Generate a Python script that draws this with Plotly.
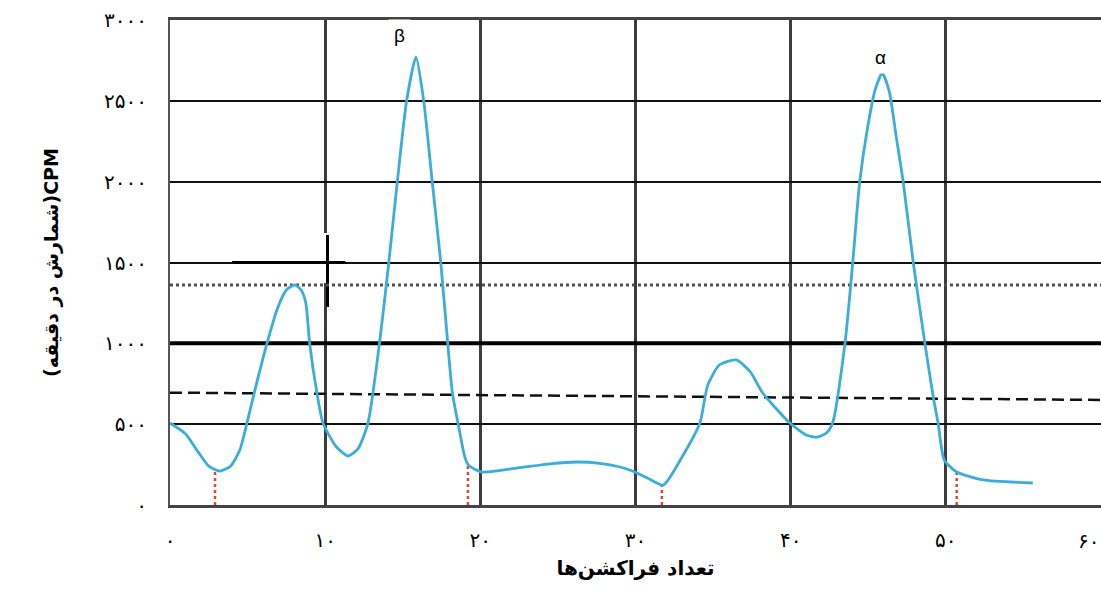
import plotly.graph_objects as go

# ---------------- data ----------------
fraction = [0, 1.0, 1.8, 2.5, 3.2, 3.9, 4.5, 4.96, 5.6, 6.25, 6.9, 7.5, 8.05,
            8.45, 8.75, 9.0, 9.47, 9.86, 10.7, 11.47, 12.1, 12.76, 13.5, 14.1, 14.65, 15.25,
            15.85, 16.35, 16.9, 17.45, 17.9, 18.2, 18.56, 19.0, 19.25, 20.1, 22.4,
            24.5, 26.2, 27.7, 29.0, 29.8, 30.8, 31.8, 33.0, 34.15, 34.65, 35.4, 36.5,
            37.4, 38.2, 39.95, 41.0, 41.7, 42.3, 42.7, 43.5, 44.0, 44.45, 44.95, 45.45, 45.9,
            46.35, 46.8, 47.25, 47.9, 48.65, 49.2, 49.5, 49.9, 50.7, 52.4, 55.6]
cpm = [507, 440, 330, 240, 210, 240, 340, 507, 760, 1000, 1210, 1330, 1361,
       1330, 1250, 1000, 693, 507, 362, 303, 345, 507, 1000, 1500, 2000, 2500,
       2771, 2500, 2000, 1500, 1000, 693, 507, 297, 245, 204, 229,
       255, 266, 258, 235, 210, 165, 124, 297, 507, 740, 866, 897,
       823, 693, 507, 433, 420, 445, 507, 1000, 1500, 2000, 2330, 2570, 2672,
       2560, 2280, 2000, 1500, 1000, 662, 507, 278, 204, 155, 136]

valley_x = [2.9, 19.2, 31.7, 50.7]
valley_y = [215, 250, 124, 204]

dotted_level = 1361
dashed_x = [0, 60]
dashed_y = [695, 650]

x_ticks = [0, 10, 20, 30, 40, 50]
x_ticktext = ["۰", "۱۰", "۲۰", "۳۰", "۴۰", "۵۰"]
x_last_tick = 60
x_last_text = "۶۰"
y_ticks = [0, 500, 1000, 1500, 2000, 2500, 3000]
y_ticktext = ["۰", "۵۰۰", "۱۰۰۰", "۱۵۰۰", "۲۰۰۰", "۲۵۰۰", "۳۰۰۰"]

x_title = "تعداد فراکشن‌ها"
y_title = "(شمارش در دقیقه)CPM"
peak_labels = ["β", "α"]
peak_label_x = [14.8, 45.8]
peak_label_y = [2907, 2771]

FA_FONT = "DejaVu Sans"

fig = go.Figure()

# dotted reference line
fig.add_trace(go.Scatter(x=[0, 60], y=[dotted_level, dotted_level], mode="lines",
                         line=dict(color="#505050", width=3, dash="dot"),
                         hoverinfo="skip", showlegend=False))
# dashed baseline
fig.add_trace(go.Scatter(x=dashed_x, y=dashed_y, mode="lines",
                         line=dict(color="#111111", width=2.5, dash="12px,6px"),
                         hoverinfo="skip", showlegend=False))

# red dotted drop lines at the valleys
vx, vy = [], []
for xv, yv in zip(valley_x, valley_y):
    vx += [xv, xv, None]
    vy += [0, yv, None]
fig.add_trace(go.Scatter(x=vx, y=vy, mode="lines",
                         line=dict(color="#e0443c", width=2.5, dash="dot"),
                         hoverinfo="skip", showlegend=False))

# elution curve
fig.add_trace(go.Scatter(x=fraction, y=cpm, mode="lines",
                         line=dict(color="#3aaed8", width=2.8, shape="spline", smoothing=0.6),
                         showlegend=False))

shapes = [
    # bold 1000 line
    dict(type="line", xref="x", yref="y", x0=0, x1=60, y0=1000, y1=1000,
         line=dict(color="black", width=4), layer="between"),
    # white patch with cross
    dict(type="rect", xref="x", yref="y", x0=4.0, x1=10.8, y0=1373, y1=1682,
         fillcolor="white", line=dict(width=0), layer="between"),
    dict(type="line", xref="x", yref="y", x0=4.0, x1=11.3, y0=1500, y1=1500,
         line=dict(color="black", width=3), layer="between"),
    dict(type="line", xref="x", yref="y", x0=10.15, x1=10.15, y0=1225, y1=1670,
         line=dict(color="black", width=3), layer="between"),
]

annotations = []
for t, ax, ay in zip(peak_labels, peak_label_x, peak_label_y):
    annotations.append(dict(x=ax, y=ay, xref="x", yref="y", text=t, showarrow=False,
                            font=dict(family="Liberation Sans, Arial", size=19, color="black"),
                            bgcolor="white", borderpad=5))
annotations.append(dict(x=x_last_tick, y=0, xref="x", yref="paper", text=x_last_text,
                        showarrow=False, xanchor="right", yanchor="top", yshift=-22,
                        font=dict(family=FA_FONT, size=20, color="black")))

fig.update_layout(
    width=1101, height=614,
    margin=dict(l=170, r=0, t=20, b=109),
    paper_bgcolor="white", plot_bgcolor="white",
    shapes=shapes, annotations=annotations,
    xaxis=dict(range=[0, 60], tickmode="array", tickvals=x_ticks, ticktext=x_ticktext,
               showgrid=True, gridcolor="#3c3c3c", gridwidth=3,
               showline=True, linecolor="#444444", linewidth=3, mirror=True,
               zeroline=False, ticks="", ticklabelstandoff=15, automargin=False,
               tickfont=dict(family=FA_FONT, size=20, color="black"),
               title=dict(text=x_title, standoff=10,
                          font=dict(family=FA_FONT, size=20, color="black", weight="bold"))),
    yaxis=dict(range=[0, 3000], tickmode="array", tickvals=y_ticks, ticktext=y_ticktext,
               showgrid=True, gridcolor="#111111", gridwidth=2,
               showline=True, linecolor="#555555", linewidth=2, mirror=True,
               zeroline=False, ticks="", ticklabelstandoff=17, automargin=False,
               tickfont=dict(family=FA_FONT, size=20, color="black"),
               title=dict(text=y_title, standoff=40,
                          font=dict(family=FA_FONT, size=19, color="black", weight="bold"))),
)

fig.write_html("out.html", config={"displayModeBar": False},
               post_script="document.body.style.margin='0';document.body.style.overflow='hidden';")
